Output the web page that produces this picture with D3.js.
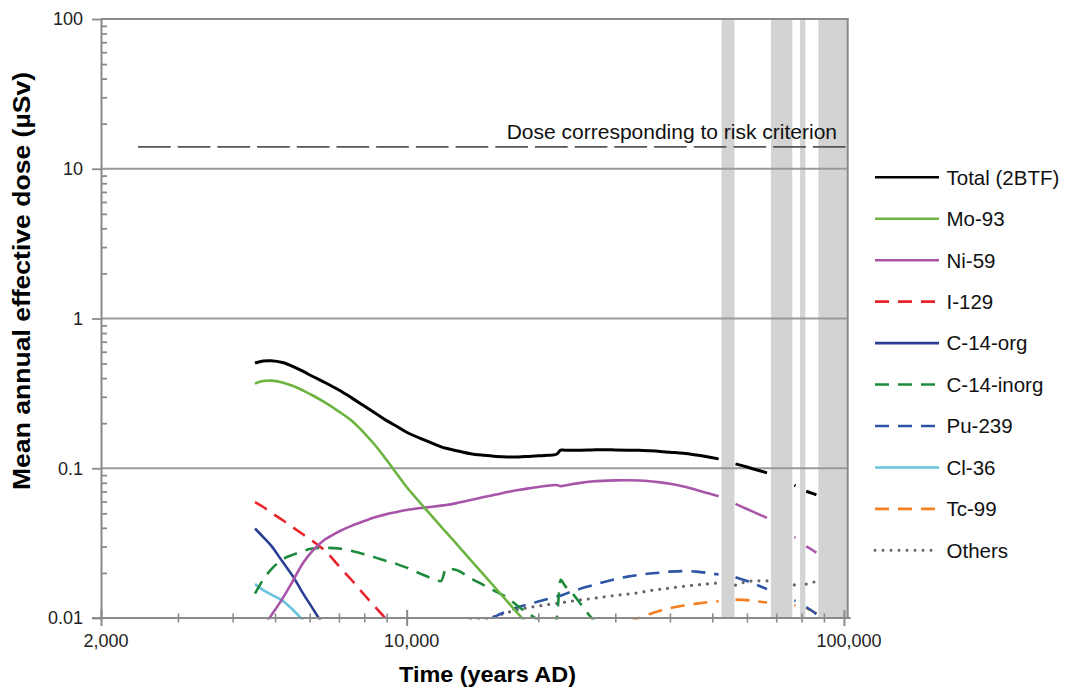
<!DOCTYPE html>
<html><head><meta charset="utf-8">
<script src="https://cdn.jsdelivr.net/npm/d3@7"></script>
<style>body{margin:0;background:#fff}svg{display:block;font-family:"Liberation Sans",Arial,sans-serif}</style>
</head><body>
<script>
// ---------- DATA ----------
const years = [4500,4700,4900,5200,5500,5800,6100,6500,7000,7500,8000,8500,9000,9500,10000,11000,12000,12300,13000,14000,15000,16000,17000,18000,19000,20000,21000,22000,22500,23000,24000,25000,26500,28000,30000,32000,34000,36000,38000,40000,43000,46000,49000,51700,56500,60000,63000,66700,77000,77500,82000,84000,86500];

const total = [0.504,0.520,0.522,0.508,0.478,0.443,0.410,0.374,0.333,0.294,0.260,0.232,0.208,0.190,0.174,0.154,0.139,0.136,0.131,0.125,0.122,0.120,0.119,0.119,0.120,0.121,0.122,0.124,0.132,0.132,0.132,0.132,0.1325,0.133,0.1325,0.132,0.1317,0.1307,0.1295,0.128,0.126,0.1225,0.1188,0.1155,0.107,0.1019,0.0977,0.0932,0.0769,0.0764,0.0702,0.0685,0.0664];
const mo93 = [0.368,0.382,0.385,0.374,0.354,0.330,0.306,0.275,0.239,0.207,0.1718,0.1407,0.1134,0.0915,0.0749,0.0542,0.0406,0.0374,0.0313,0.0244,0.01946,0.01574,0.01287,0.01067,0.00893,0.00754,null,null,null,null,null,null,null,null,null,null,null,null,null,null,null,null,null,null,null,null,null,null,null,null,null,null,null];
const ni59 = [0.0075,0.0087,0.01038,0.01348,0.0178,0.0234,0.0282,0.0334,0.0378,0.0414,0.0444,0.0472,0.0494,0.0511,0.0526,0.0546,0.0563,0.0568,0.0585,0.0613,0.0642,0.0667,0.0693,0.0715,0.0734,0.0749,0.0764,0.0772,0.0760,0.0766,0.0784,0.0799,0.0815,0.0824,0.0830,0.0832,0.0828,0.0819,0.0805,0.0788,0.0755,0.0717,0.0680,0.0649,0.0578,0.0534,0.0502,0.0466,0.0347,0.0344,0.0301,0.0289,0.0273];
const i129 = [0.0594,0.0551,0.0506,0.0451,0.0402,0.0361,0.0326,0.0282,0.0222,0.0178,0.0143,0.01174,0.00976,0.0082,null,null,null,null,null,null,null,null,null,null,null,null,null,null,null,null,null,null,null,null,null,null,null,null,null,null,null,null,null,null,null,null,null,null,null,null,null,null,null];
const c14org = [0.0396,0.0347,0.0304,0.0238,0.0189,0.01455,0.01156,0.0086,null,null,null,null,null,null,null,null,null,null,null,null,null,null,null,null,null,null,null,null,null,null,null,null,null,null,null,null,null,null,null,null,null,null,null,null,null,null,null,null,null,null,null,null,null];
const c14inorg = [0.01455,0.01805,0.0211,0.0246,0.0265,0.0280,0.0291,0.0294,0.0291,0.0280,0.0267,0.0253,0.0240,0.0229,0.0217,0.0192,0.01764,0.0214,0.0209,0.01847,0.0166,0.0150,0.01369,0.01192,0.0107,0.00968,0.0087,0.0098,0.0180,0.01646,0.01445,0.0124,0.00998,0.0085,null,null,null,null,null,null,null,null,null,null,null,null,null,null,null,null,null,null,null];
const pu239 = [null,null,null,null,null,null,null,null,null,null,null,null,null,null,null,null,null,null,null,0.0085,0.0093,0.0103,0.01112,0.01183,0.01235,0.01287,0.01337,0.0139,0.0141,0.01444,0.01512,0.01571,0.01646,0.01724,0.01814,0.0189,0.0194,0.0198,0.0201,0.0204,0.02057,0.0204,0.01995,0.0195,0.0187,0.01764,0.0167,0.0156,0.01307,0.0130,0.01183,0.0113,0.01062];
const cl36 = [0.01684,0.01536,0.01433,0.01307,0.0113,0.0096,null,null,null,null,null,null,null,null,null,null,null,null,null,null,null,null,null,null,null,null,null,null,null,null,null,null,null,null,null,null,null,null,null,null,null,null,null,null,null,null,null,null,null,null,null,null,null];
const tc99 = [null,null,null,null,null,null,null,null,null,null,null,null,null,null,null,null,null,null,null,null,null,null,null,null,null,null,null,null,null,null,null,null,null,null,null,0.0092,0.00998,0.01065,0.0112,0.01164,0.0121,0.01248,0.01277,0.01297,0.01327,0.01317,0.01293,0.01268,0.0122,0.0121,0.01168,0.01124,0.01075];
const others = [null,null,null,null,null,null,null,null,null,null,null,null,null,null,null,null,null,null,null,0.0097,0.0098,0.0103,0.01087,0.01138,0.01174,0.01201,0.01229,0.01254,0.0127,0.01277,0.0130,0.01321,0.01348,0.01379,0.01416,0.01444,0.01478,0.01524,0.01555,0.01584,0.01628,0.01663,0.01692,0.01715,0.0166,0.0175,0.0177,0.0177,0.01663,0.01663,0.01684,0.01723,0.0175];

const seriesNames = ["Total (2BTF)","Mo-93","Ni-59","I-129","C-14-org","C-14-inorg","Pu-239","Cl-36","Tc-99","Others"];
const seriesValues = [total,mo93,ni59,i129,c14org,c14inorg,pu239,cl36,tc99,others];

// grey bands (years AD)
const bandStarts = [52500,68100,79400,87400];
const bandEnds   = [56200,76200,81600,102000];

const riskDose = 14;
const riskStart = 2430;
const riskLabel = "Dose corresponding to risk criterion";

const xDomain = [2000,102000];
const yDomain = [0.01,100];
const xMajorTicks = [2000,10000,100000];
const xMinorTicks = [3000,4000,5000,6000,7000,8000,9000,20000,30000,40000,50000,60000,70000,80000,90000];
const yMajorTicks = [0.01,0.1,1,10,100];
const yTickLabels = ["0.01","0.1","1","10","100"];
const yGridValues = [0.1,1,10,100];
const xTitle = "Time (years AD)";
const yTitle = "Mean annual effective dose (µSv)";

// ---------- STYLE ----------
const styles = [
  {color:"#000000", width:3.0, dash:null, curve:"smooth"},
  {color:"#6cb33f", width:2.6, dash:null, curve:"smooth"},
  {color:"#a855a9", width:2.6, dash:null, curve:"smooth"},
  {color:"#e8242a", width:2.6, dash:"14,9", curve:"smooth"},
  {color:"#2a3f94", width:2.6, dash:null, curve:"smooth"},
  {color:"#1e8a3c", width:2.6, dash:"14,9", curve:"mono"},
  {color:"#2d54a5", width:2.6, dash:"14,9", curve:"smooth"},
  {color:"#68c3de", width:2.6, dash:null, curve:"smooth"},
  {color:"#f47f20", width:2.6, dash:"14,9", curve:"smooth"},
  {color:"#666666", width:3.2, dash:"0,8", curve:"smooth"}
];

const W = 1065, H = 689;
const svg = d3.select("body").append("svg").attr("width",W).attr("height",H);

const x = d3.scaleLog().domain(xDomain).range([101, 847.7]);
const y = d3.scaleLog().domain(yDomain).range([618, 19]);

const axisColor = "#8a8a8a";
const pLeft = x(xDomain[0]), pRight = x(xDomain[1]), pTop = y(yDomain[1]), pBottom = y(yDomain[0]);

// bands
svg.append("g").selectAll("rect").data(bandStarts.map((s,i)=>[s,bandEnds[i]])).join("rect")
  .attr("x", d=>x(d[0])).attr("width", d=>x(d[1])-x(d[0]))
  .attr("y", pTop).attr("height", pBottom-pTop).attr("fill","#d3d3d3");

// gridlines
svg.append("g").selectAll("line").data(yGridValues).join("line")
  .attr("x1", pLeft).attr("x2", pRight).attr("y1", d=>y(d)).attr("y2", d=>y(d))
  .attr("stroke","#9a9a9a").attr("stroke-width",1.8);

// risk criterion line
svg.append("line").attr("x1", x(riskStart)).attr("x2", pRight)
  .attr("y1", y(riskDose)).attr("y2", y(riskDose))
  .attr("stroke","#555").attr("stroke-width",1.7).attr("stroke-dasharray","32.7,7");
svg.append("text").attr("x", 837).attr("y", y(riskDose)-7.5)
  .attr("text-anchor","end").attr("font-size","21px").attr("fill","#111").text(riskLabel);

// clip
svg.append("defs").append("clipPath").attr("id","clip").append("rect")
  .attr("x", pLeft).attr("y", pTop).attr("width", pRight-pLeft).attr("height", pBottom-pTop+1.5);

function inBandBetween(a,b){
  for (let i=0;i<bandStarts.length;i++){ if (bandStarts[i] > a && bandStarts[i] < b) return true; }
  return false;
}
function buildPoints(vals){
  const pts = [];
  for (let i=0;i<years.length;i++){
    if (i>0 && inBandBetween(years[i-1], years[i])) pts.push(null);
    pts.push(vals[i]==null ? null : [years[i], vals[i]]);
  }
  return pts;
}
const lineSmooth = d3.line().defined(d=>d!=null).x(d=>x(d[0])).y(d=>y(d[1])).curve(d3.curveCatmullRom.alpha(0.5));
const lineMono = d3.line().defined(d=>d!=null).x(d=>x(d[0])).y(d=>y(d[1])).curve(d3.curveMonotoneX);

const gLines = svg.append("g").attr("clip-path","url(#clip)");
for (let k=seriesValues.length-1;k>=0;k--){
  const st = styles[k];
  gLines.append("path").datum(buildPoints(seriesValues[k]))
    .attr("d", st.curve==="mono" ? lineMono : lineSmooth).attr("fill","none").attr("stroke", st.color)
    .attr("stroke-width", st.width).attr("stroke-linecap", k===9 ? "round" : "butt")
    .attr("stroke-linejoin","round")
    .attr("stroke-dasharray", st.dash);
}

// top & right borders
svg.append("line").attr("x1",pLeft).attr("x2",pRight+1).attr("y1",pTop).attr("y2",pTop).attr("stroke",axisColor).attr("stroke-width",2);
svg.append("line").attr("x1",pRight).attr("x2",pRight).attr("y1",pTop).attr("y2",pBottom).attr("stroke",axisColor).attr("stroke-width",2);

// Y axis
const yAxis = svg.append("g").attr("transform",`translate(${pLeft},0)`)
  .call(d3.axisLeft(y).tickValues(yMajorTicks).tickFormat((d,i)=>yTickLabels[i]).tickSizeInner(9).tickSizeOuter(0).tickPadding(9));
yAxis.select(".domain").attr("stroke",axisColor).attr("stroke-width",2);
yAxis.selectAll(".tick line").attr("stroke",axisColor).attr("stroke-width",1.8);
yAxis.selectAll(".tick text").attr("font-size","18px").attr("fill","#222").attr("font-family","Liberation Sans, Arial, sans-serif");

const yMinor = [];
for (let e=-2;e<2;e++) for (let m=2;m<10;m++) yMinor.push(m*Math.pow(10,e));
const yMinAxis = svg.append("g").attr("transform",`translate(${pLeft},0)`)
  .call(d3.axisRight(y).tickValues(yMinor).tickFormat("").tickSizeInner(6).tickSizeOuter(0));
yMinAxis.select(".domain").remove();
yMinAxis.selectAll(".tick line").attr("stroke",axisColor).attr("stroke-width",1.8);

// X axis
const xAxis = svg.append("g").attr("transform",`translate(0,${pBottom})`)
  .call(d3.axisBottom(x).tickValues(xMajorTicks).tickFormat(d3.format(",")).tickSizeInner(8).tickSizeOuter(0));
xAxis.select(".domain").attr("stroke",axisColor).attr("stroke-width",2).attr("d",`M${pLeft-9},0H${pRight+3}`);
xAxis.selectAll(".tick line").attr("stroke",axisColor).attr("stroke-width",2).attr("y1",-8).attr("y2",8);
xAxis.selectAll(".tick text").attr("font-size","18px").attr("fill","#222").attr("y",29).attr("dy",0).attr("dx",4.5)
  .attr("font-family","Liberation Sans, Arial, sans-serif");

const xMinAxis = svg.append("g").attr("transform",`translate(0,${pBottom})`)
  .call(d3.axisBottom(x).tickValues(xMinorTicks).tickFormat("").tickSizeInner(4).tickSizeOuter(0));
xMinAxis.select(".domain").remove();
xMinAxis.selectAll(".tick line").attr("stroke",axisColor).attr("stroke-width",1.6).attr("y1",-4.5).attr("y2",4.5);

// Axis titles
svg.append("text").attr("x", 487.5).attr("y", 681.5).attr("text-anchor","middle")
  .attr("font-size","22px").attr("font-weight","bold").attr("fill","#000")
  .attr("textLength",177).attr("lengthAdjust","spacingAndGlyphs").text(xTitle);
svg.append("text").attr("transform",`translate(29.5,281) rotate(-90)`).attr("text-anchor","middle")
  .attr("font-size","23px").attr("font-weight","bold").attr("fill","#000")
  .attr("textLength",418).attr("lengthAdjust","spacingAndGlyphs").text(yTitle);

// Legend
const legend = svg.append("g");
seriesNames.forEach((name,i)=>{
  const ly = 177.3 + i*41.45;
  const st = styles[i];
  legend.append("line").attr("x1",875).attr("x2",939).attr("y1",ly).attr("y2",ly)
    .attr("stroke",st.color).attr("stroke-width", i===9 ? 3 : 2.6)
    .attr("stroke-dasharray", i===9 ? "0,8" : st.dash)
    .attr("stroke-linecap", i===9 ? "round" : "butt");
  legend.append("text").attr("x",946.5).attr("y",ly+7.3).attr("font-size","20.5px").attr("fill","#111").text(name);
});
</script>
</body></html>
